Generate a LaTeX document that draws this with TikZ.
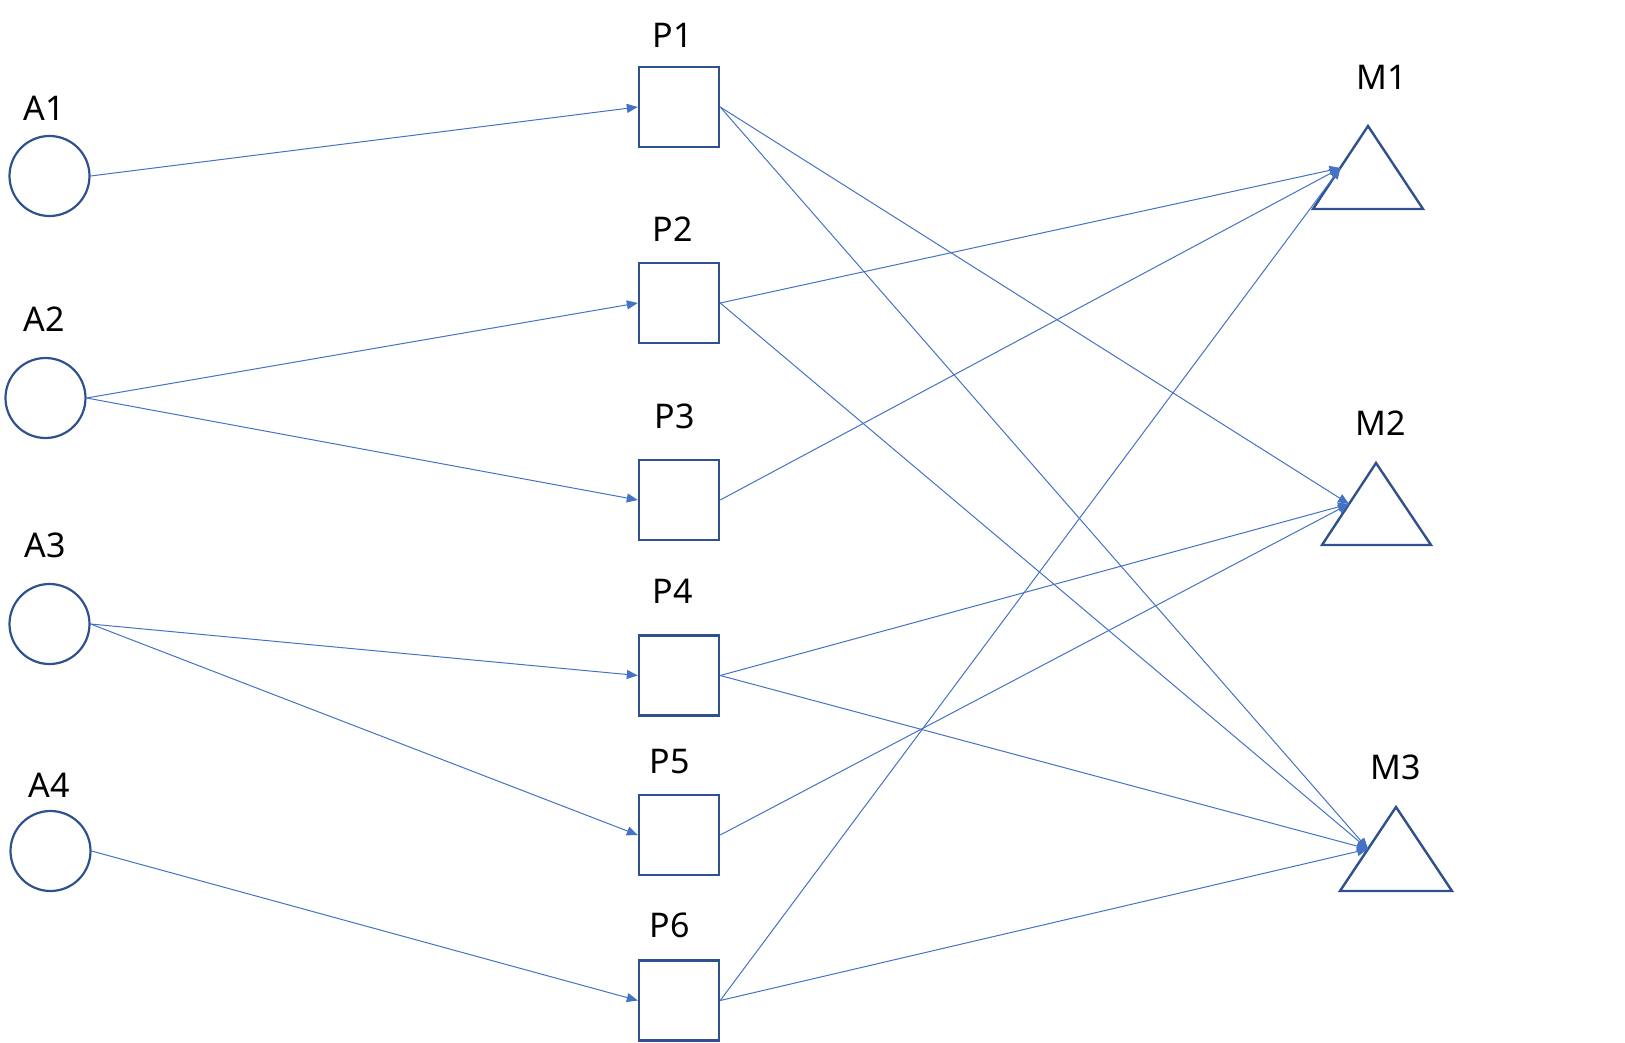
\documentclass[tikz,border=0pt]{standalone}
\usepackage{fontspec}
\setmainfont{Noto Sans}
\usetikzlibrary{arrows.meta}
\definecolor{edgeblue}{HTML}{4472C4}
\definecolor{borderblue}{HTML}{2F528F}
\begin{document}
\begin{tikzpicture}[x=1pt,y=-1pt,
  src/.style={circle,draw=borderblue,line width=2.2pt,minimum size=80pt,inner sep=0pt},
  proc/.style={rectangle,draw=borderblue,line width=2.4pt,minimum size=80pt,inner sep=0pt},
  lbl/.style={font=\fontsize{34}{40}\selectfont,text=black,inner sep=0pt},
  edge/.style={draw=edgeblue,line width=1pt,-{Triangle[length=11pt,width=9pt]}},
  tri/.style={draw=borderblue,line width=2.4pt,line join=miter}]
\useasboundingbox (0,0) rectangle (1625,1043);
% sources
\node[src] (A1) at (49.5,176) {};
\node[src] (A2) at (45.5,398) {};
\node[src] (A3) at (49.5,624) {};
\node[src] (A4) at (50.5,851) {};
\node[lbl] (lA1) at (44,108) {A1};
\node[lbl] (lA2) at (44,319) {A2};
\node[lbl] (lA3) at (45,545) {A3};
\node[lbl] (lA4) at (49,785) {A4};
% processes
\node[proc] (P1) at (679,107) {};
\node[proc] (P2) at (679,303) {};
\node[proc] (P3) at (679,500) {};
\node[proc] (P4) at (679,675.5) {};
\node[proc] (P5) at (679,835) {};
\node[proc] (P6) at (679,1000.5) {};
\node[lbl] (lP1) at (673,35) {P1};
\node[lbl] (lP2) at (673,229) {P2};
\node[lbl] (lP3) at (675,416) {P3};
\node[lbl] (lP4) at (673,591) {P4};
\node[lbl] (lP5) at (670,762) {P5};
\node[lbl] (lP6) at (670,925) {P6};
% machines
\draw[tri] (1368,126) -- (1423,209) -- (1313,209) -- cycle;
\draw[tri] (1376,463) -- (1431,545) -- (1322,545) -- cycle;
\draw[tri] (1396,807) -- (1452,891) -- (1340,891) -- cycle;
\coordinate (M1) at (1340.5,168);
\coordinate (M2) at (1349,504);
\coordinate (M3) at (1368,849);
\node[lbl] (lM1) at (1382,77) {M1};
\node[lbl] (lM2) at (1381,423) {M2};
\node[lbl] (lM3) at (1396,767) {M3};
% edges
\draw[edge] (A1.east) -- (P1.west);
\draw[edge] (A2.east) -- (P2.west);
\draw[edge] (A2.east) -- (P3.west);
\draw[edge] (A3.east) -- (P4.west);
\draw[edge] (A3.east) -- (P5.west);
\draw[edge] (A4.east) -- (P6.west);
\draw[edge] (P1.east) -- (M2);
\draw[edge] (P1.east) -- (M3);
\draw[edge] (P2.east) -- (M1);
\draw[edge] (P2.east) -- (M3);
\draw[edge] (P3.east) -- (M1);
\draw[edge] (P4.east) -- (M2);
\draw[edge] (P4.east) -- (M3);
\draw[edge] (P5.east) -- (M2);
\draw[edge] (P6.east) -- (M1);
\draw[edge] (P6.east) -- (M3);
\end{tikzpicture}
\end{document}
